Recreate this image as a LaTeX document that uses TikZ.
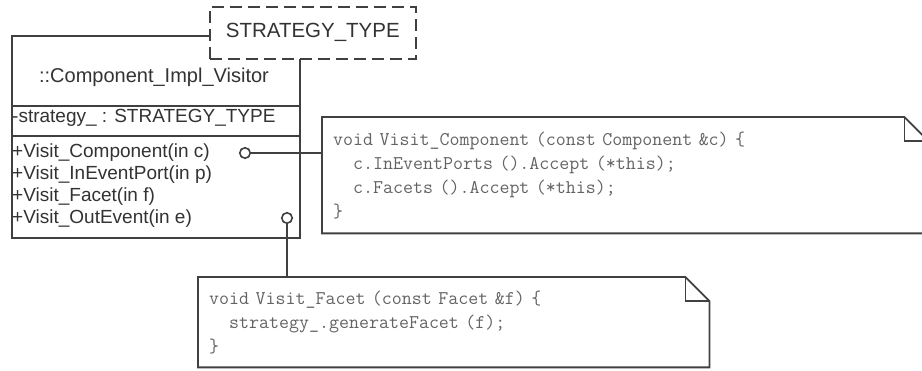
\documentclass[tikz,border=0pt]{standalone}
\usepackage{fontspec}
\setmainfont{Liberation Sans}
\usetikzlibrary{calc, positioning}
\definecolor{umlline}{HTML}{404040}
\definecolor{umltext}{HTML}{333333}
\definecolor{codegray}{HTML}{636363}

\begin{document}
\begin{tikzpicture}[x=1pt, y=-1pt,
    part/.style={draw=umlline, line width=1.8pt, fill=white, inner sep=0pt,
                 minimum width=288pt, anchor=north west},
    tmplbox/.style={draw=umlline, line width=1.6pt, fill=white,
                    dash pattern=on 12pt off 6pt, minimum width=206pt,
                    minimum height=52pt, anchor=north west, inner sep=0pt,
                    font=\fontsize{20.5}{22}\selectfont, text=umltext},
    member/.style={anchor=west, inner xsep=1pt, inner ysep=0pt,
                   text height=14pt, text depth=4pt,
                   font=\fontsize{19}{22}\selectfont, text=umltext},
    port/.style={circle, draw=umlline, line width=1.6pt, fill=white,
                 minimum size=10.5pt, inner sep=0pt},
    note/.style={anchor=north west, align=left, inner xsep=11pt,
                 font=\fontsize{19.4}{24}\selectfont\ttfamily, text=codegray},
    noteline/.style={draw=umlline, line width=1.8pt},
    link/.style={draw=umlline, line width=1.6pt}
  ]
    \useasboundingbox (0,0) rectangle (922,371);

    % class box
    \node[part, minimum height=70pt] (title) at (11,35) {};
    \node[part, minimum height=30pt] (attrs) at (11,105) {};
    \node[part, minimum height=102pt] (ops) at (11,135) {};
    \node[tmplbox] (tmpl) at (209,6) {STRATEGY\_TYPE};

    \node[member, anchor=center, font=\fontsize{20}{22}\selectfont] (cname) at (154,78) {::Component\_Impl\_Visitor};
    \node[member] (attr1) at (11,118) {-strategy\_ : STRATEGY\_TYPE};
    \node[member] (op1) at (11,153) {+Visit\_Component(in c)};
    \node[member] (op2) at (11,175) {+Visit\_InEventPort(in p)};
    \node[member] (op3) at (11,197) {+Visit\_Facet(in f)};
    \node[member] (op4) at (11,219) {+Visit\_OutEvent(in e)};

    \node[port] (p1) at (245,153) {};
    \node[port] (p2) at (287,218) {};

    % notes
    \node[note, text width=584pt, minimum height=116pt] (n1) at (322,117)
      {void Visit\_Component (const Component \&c) \{\\
       \phantom{xx}c.InEventPorts ().Accept (*this);\\
       \phantom{xx}c.Facets ().Accept (*this);\\
       \}};
    \node[note, text width=489pt, minimum height=90pt] (n2) at (198,277)
      {void Visit\_Facet (const Facet \&f) \{\\
       \phantom{xx}strategy\_.generateFacet (f);\\
       \}};

    \draw[noteline] (n1.north west) -- ($(n1.north east)+(-24,0)$)
      -- ($(n1.north east)+(0,24)$) -- (n1.south east) -- (n1.south west) -- cycle;
    \draw[noteline] ($(n1.north east)+(-24,0)$) |- ($(n1.north east)+(0,24)$);
    \draw[noteline] (n2.north west) -- ($(n2.north east)+(-24,0)$)
      -- ($(n2.north east)+(0,24)$) -- (n2.south east) -- (n2.south west) -- cycle;
    \draw[noteline] ($(n2.north east)+(-24,0)$) |- ($(n2.north east)+(0,24)$);

    \draw[link] (p1) -- (p1 -| n1.west);
    \draw[link] (p2) -- (p2 |- n2.north);
  \end{tikzpicture}
\end{document}
